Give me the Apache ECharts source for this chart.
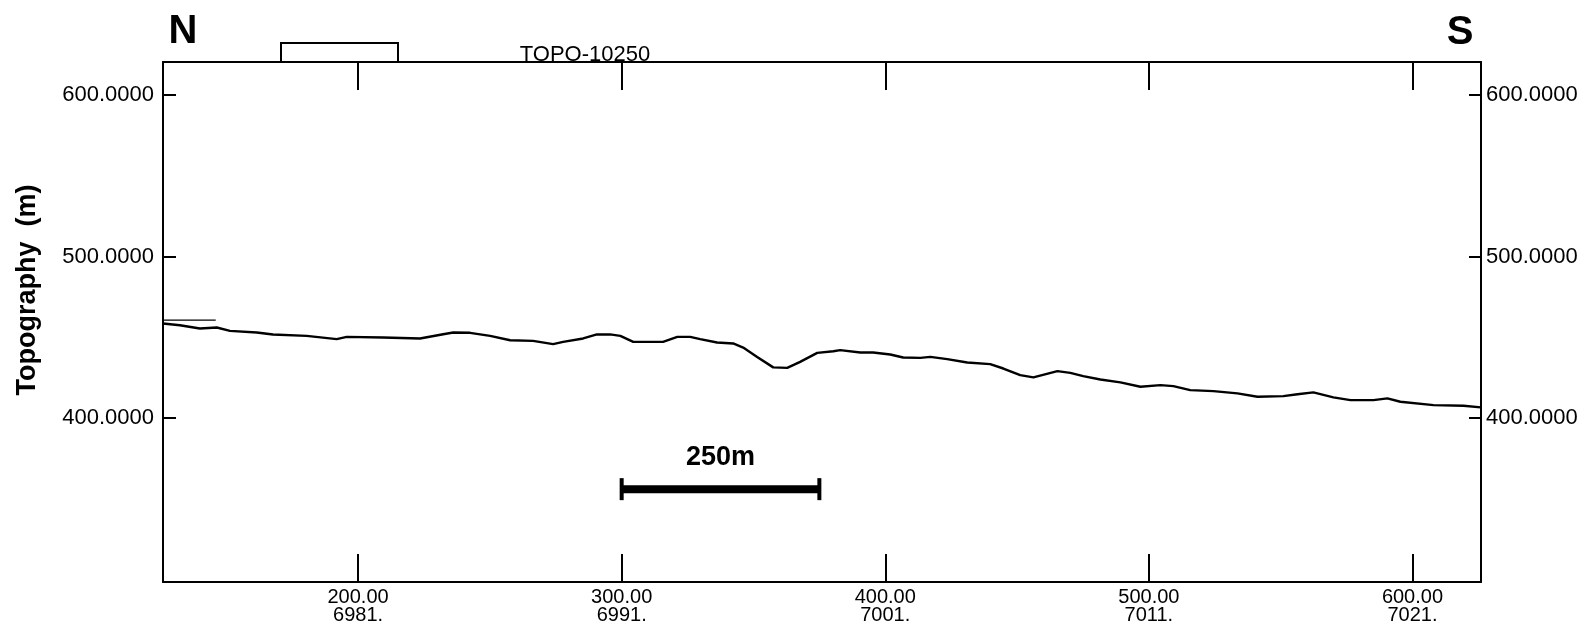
<!DOCTYPE html>
<html>
<head>
<meta charset="utf-8">
<script src="https://cdn.jsdelivr.net/npm/echarts@6/dist/echarts.min.js"></script>
<style>
html,body{margin:0;padding:0;background:#fff;}
#chart{width:1589px;height:630px;}
</style>
</head>
<body>
<div id="chart"></div>
<script>
// Distance along profile (axis units) and topography (m)
const distance = [126,132.4,140,146.4,151.4,161.6,167.7,180.5,191.9,195.7,209.5,223.5,232.3,236.1,242.5,250.1,257.7,266.4,274,277.8,285.4,290.6,295.6,299.5,304.4,315.7,321.1,326,329.8,336.2,342.3,346.1,351.4,357.5,362.8,367.7,374.2,380.3,382.9,390.5,395.4,401.9,406.8,413.3,417.1,423.5,431.1,439.8,444.8,451.2,456.2,465.3,470.2,475.1,481.6,489.2,496.8,504.4,509.3,515.7,524.5,533.6,541.2,551,556.4,562.4,570,576.5,585.2,590.5,595.4,608,619.4,625.9];
const topography = [458.6,457.5,455.5,456.1,454,453,451.8,450.9,448.9,450.3,449.9,449.3,451.9,453,452.8,450.9,448.2,447.8,445.8,447.2,449.3,451.8,451.8,450.9,447.2,447.2,450.3,450.3,448.9,446.8,446.2,443.7,437.9,431.4,431.1,434.8,440.4,441.4,442.1,440.6,440.6,439.4,437.5,437.3,437.9,436.5,434.4,433.4,430.7,426.6,425.2,429.1,428,426,423.9,422.1,419.4,420.4,419.8,417.3,416.7,415.3,413.2,413.6,414.8,415.9,412.8,411.1,411.1,412.2,410.1,408,407.6,406.6];

// Short reference level line at start of profile
const refLineX = [126,146];
const refLineY = [460.7,460.7];

// Scale bar (axis units) and its label
const scaleBarX = [300,375];
const scaleBarY = [356,356];
const scaleLabel = '250m';
const scaleLabelPos = [337.5,375.5];

// Axis ticks and labels
const xTicks = [200,300,400,500,600];
const xTickLabels = ['200.00','300.00','400.00','500.00','600.00'];
const xTickLabels2 = ['6981.','6991.','7001.','7011.','7021.'];
const yTicks = [400,500,600];
const xRange = [126,626];
const yRange = [298.5,620.5];

const chart = echarts.init(document.getElementById('chart'), null, {renderer:'canvas'});
const FONT = "'Liberation Sans', Arial, sans-serif";
const black = '#000';

const xLabelFmt = function(v){
  const i = xTicks.indexOf(Math.round(v));
  return i >= 0 ? xTickLabels[i] + '\n' + xTickLabels2[i] : '';
};

const option = {
  backgroundColor:'#fff',
  animation:false,
  grid:{left:163,right:108,top:62,bottom:48,containLabel:false},
  xAxis:[{
    type:'value', position:'bottom', min:xRange[0], max:xRange[1],
    axisLine:{show:true,lineStyle:{color:black,width:2}},
    axisTick:{show:true,inside:true,length:28,lineStyle:{color:black,width:2},customValues:xTicks},
    axisLabel:{show:true,customValues:xTicks,formatter:xLabelFmt,color:black,fontFamily:FONT,fontSize:20,lineHeight:18,margin:6},
    splitLine:{show:false}
  },{
    type:'value', position:'top', min:xRange[0], max:xRange[1],
    axisLine:{show:true,lineStyle:{color:black,width:2}},
    axisTick:{show:true,inside:true,length:28,lineStyle:{color:black,width:2},customValues:xTicks},
    axisLabel:{show:false},
    splitLine:{show:false}
  }],
  yAxis:[{
    type:'value', position:'left', min:yRange[0], max:yRange[1],
    axisLine:{show:true,lineStyle:{color:black,width:2}},
    axisTick:{show:true,inside:true,length:13,lineStyle:{color:black,width:2},customValues:yTicks},
    axisLabel:{show:true,customValues:yTicks,formatter:v=>v.toFixed(4),color:black,fontFamily:FONT,fontSize:22,margin:9},
    splitLine:{show:false}
  },{
    type:'value', position:'right', min:yRange[0], max:yRange[1],
    axisLine:{show:true,lineStyle:{color:black,width:2}},
    axisTick:{show:true,inside:true,length:12,lineStyle:{color:black,width:2},customValues:yTicks},
    axisLabel:{show:true,customValues:yTicks,formatter:v=>v.toFixed(4),color:black,fontFamily:FONT,fontSize:22,margin:5},
    splitLine:{show:false}
  }],
  series:[{
    name:'Topography', type:'line', xAxisIndex:0, yAxisIndex:0,
    data: distance.map((d,i)=>[d,topography[i]]),
    showSymbol:false, symbol:'none',
    lineStyle:{color:black,width:2.4}
  },{
    name:'Reference', type:'line', xAxisIndex:0, yAxisIndex:0,
    data: refLineX.map((d,i)=>[d,refLineY[i]]),
    showSymbol:false, symbol:'none',
    lineStyle:{color:black,width:1.2}
  },{
    name:'Scale', type:'line', xAxisIndex:0, yAxisIndex:0,
    data: scaleBarX.map((d,i)=>[d,scaleBarY[i]]),
    symbol:'rect', symbolSize:[4,22], showSymbol:true,
    itemStyle:{color:black},
    lineStyle:{color:black,width:8}
  },{
    name:'ScaleLabel', type:'scatter', xAxisIndex:0, yAxisIndex:0,
    data:[scaleLabelPos], symbolSize:0,
    itemStyle:{opacity:1,color:black},
    label:{show:true,position:'inside',formatter:scaleLabel,color:black,opacity:1,fontFamily:FONT,fontSize:27,fontWeight:'bold',textBorderWidth:0}
  }],
  graphic:[
    {type:'text',style:{text:'Topography  (m)',x:28,y:290,fill:black,font:"bold 27px 'Liberation Sans', Arial, sans-serif",textAlign:'center',textVerticalAlign:'middle'},rotation:Math.PI/2,originX:28,originY:290},
    {type:'text',style:{text:'N',x:183,y:32,fill:black,font:"bold 40px 'Liberation Sans', Arial, sans-serif",textAlign:'center',textVerticalAlign:'middle'}},
    {type:'text',style:{text:'S',x:1460,y:33,fill:black,font:"bold 40px 'Liberation Sans', Arial, sans-serif",textAlign:'center',textVerticalAlign:'middle'}},
    {type:'text',style:{text:'TOPO-10250',x:585,y:55,fill:black,font:"22px 'Liberation Sans', Arial, sans-serif",textAlign:'center',textVerticalAlign:'middle'}},
    {type:'rect',shape:{x:281,y:43,width:117,height:19},style:{fill:'#fff',stroke:black,lineWidth:2}}
  ]
};
chart.setOption(option);
</script>
</body>
</html>
